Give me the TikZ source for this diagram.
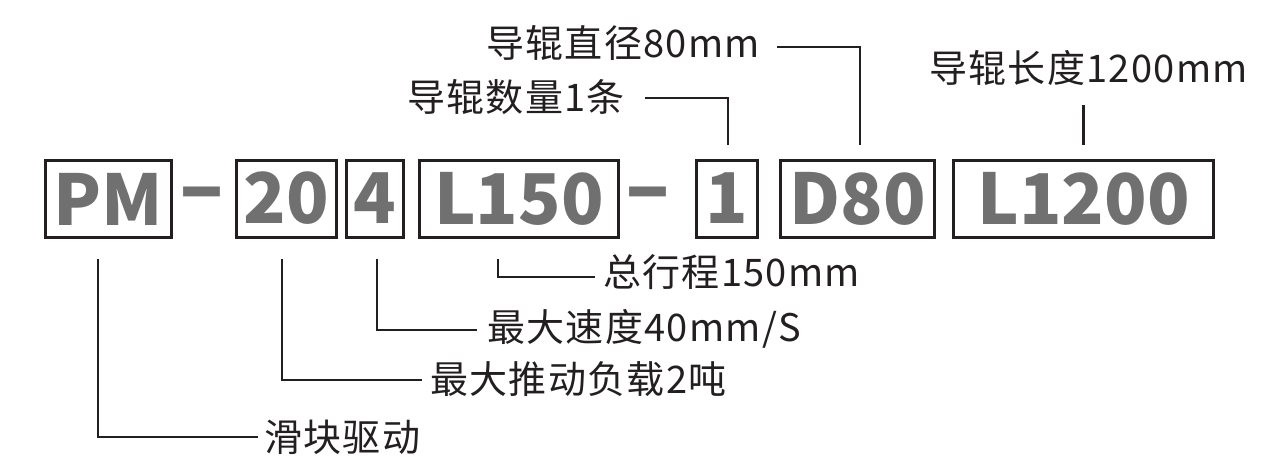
\documentclass[tikz,border=0pt]{standalone}
\usepackage{fontspec}
\setmainfont{Noto Sans CJK SC}
\newfontfamily\lblfont[LetterSpace=3.5]{Noto Sans CJK SC}
\definecolor{ink}{RGB}{35,31,32}
\definecolor{codegray}{RGB}{112,112,112}

\begin{document}
\begin{tikzpicture}[x=1pt,y=-1pt,
  codebox/.style={draw=ink,line width=3pt,minimum height=77pt,inner sep=0pt,text=codegray,font=\fontsize{70}{70}\selectfont\bfseries},
  dashmark/.style={inner sep=0pt,text=codegray,font=\fontsize{63}{63}\selectfont\bfseries},
  lbl/.style={inner sep=0pt,anchor=west,text=ink,font=\lblfont\fontsize{38}{40}\selectfont},
  lead/.style={draw=ink,line width=2.5pt}]
 \useasboundingbox (0,0) rectangle (1267,456);
 % 型号
 \node[codebox,minimum width=126pt] (pm) at (108.5,199) {PM};
 \node[dashmark] (dashA) at (201.5,202.5) {\scalebox{1.3}[1.4]{–}};
 \node[codebox,minimum width=100pt] (load) at (286.5,198.5) {20};
 \node[codebox,minimum width=57pt] (speed) at (375,198.5) {4};
 \node[codebox,minimum width=199pt] (stroke) at (519,198.5) {L150};
 \node[dashmark] (dashB) at (647.5,202.5) {\scalebox{1.3}[1.4]{–}};
 \node[codebox,minimum width=61pt] (num) at (727,198.5) {1};
 \node[codebox,minimum width=154pt] (dia) at (857.5,198.5) {D80};
 \node[codebox,minimum width=260pt] (len) at (1083.5,198.5) {L1200};
 % 上方说明
 \node[lbl] (diaT) at (486,43) {导辊直径80mm};
 \node[lbl] (numT) at (407,97) {导辊数量1条};
 \node[lbl] (lenT) at (929,68) {导辊长度1200mm};
 \coordinate (lenTop) at (1083.5,105);
 \draw[lead] ([xshift=17pt,yshift=-4pt]diaT.east) -| ([xshift=2.5pt,yshift=13.5pt]dia.north);
 \draw[lead] ([xshift=20pt,yshift=-1pt]numT.east) -| ([xshift=1pt,yshift=13.5pt]num.north);
 \draw[lead] (lenTop) -- ([yshift=13.5pt]len.north);
 % 下方说明
 \node[lbl] (strokeT) at (603,272) {总行程150mm};
 \node[lbl] (speedT) at (487,329) {最大速度40mm/S};
 \node[lbl] (loadT) at (430,379) {最大推动负载2吨};
 \node[lbl] (pmT) at (264,437) {滑块驱动};
 \draw[lead] ([xshift=-21pt,yshift=-20.5pt]stroke.south) |- ([xshift=-8pt,yshift=-5pt]strokeT.west);
 \draw[lead] ([xshift=2pt,yshift=-20.5pt]speed.south) |- ([xshift=-10pt,yshift=-1pt]speedT.west);
 \draw[lead] ([xshift=-4.5pt,yshift=-20.5pt]load.south) |- ([xshift=-8pt,yshift=-1pt]loadT.west);
 \draw[lead] ([xshift=-10.5pt,yshift=-20pt]pm.south) |- ([xshift=-6pt]pmT.west);
\end{tikzpicture}
\end{document}
